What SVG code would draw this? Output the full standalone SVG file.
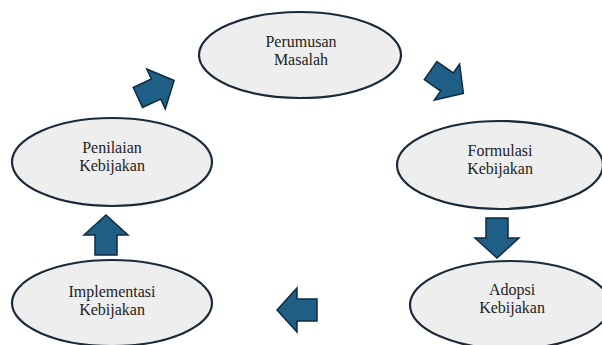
<svg xmlns="http://www.w3.org/2000/svg" width="602" height="345" viewBox="0 0 602 345">
<defs>
<style>
.node ellipse{fill:#eeeeee;stroke:#1b2a38;stroke-width:2.2}
.node text{font-family:"Liberation Serif","DejaVu Serif",serif;font-size:16px;fill:#222;text-anchor:middle}
.arrow{fill:#1f5e85;stroke:#0f2c40;stroke-width:1.5;stroke-linejoin:miter}
</style>
<path id="arr" d="M-20,-11 L0,-11 L0,-22 L20,0 L0,22 L0,11 L-20,11 Z"/>
</defs>
<rect width="602" height="345" fill="#ffffff"/>
<g id="perumusan" class="node">
<ellipse cx="300" cy="55" rx="101" ry="43"/>
<text x="301" y="47">Perumusan</text>
<text x="301" y="65">Masalah</text>
</g>
<g id="formulasi" class="node">
<ellipse cx="500" cy="165" rx="103" ry="44"/>
<text x="500" y="156">Formulasi</text>
<text x="500" y="174">Kebijakan</text>
</g>
<g id="adopsi" class="node">
<ellipse cx="510" cy="305" rx="100" ry="44"/>
<text x="512" y="295">Adopsi</text>
<text x="512" y="313">Kebijakan</text>
</g>
<g id="implementasi" class="node">
<ellipse cx="112" cy="303" rx="100" ry="43"/>
<text x="112" y="297">Implementasi</text>
<text x="112" y="315">Kebijakan</text>
</g>
<g id="penilaian" class="node">
<ellipse cx="112" cy="162" rx="100" ry="44"/>
<text x="112" y="153">Penilaian</text>
<text x="112" y="171">Kebijakan</text>
</g>
<g id="connectors">
<use href="#arr" class="arrow" transform="translate(447,82) rotate(35)"/>
<use href="#arr" class="arrow" transform="translate(497,238) rotate(90)"/>
<use href="#arr" class="arrow" transform="translate(297,310) rotate(180)"/>
<use href="#arr" class="arrow" transform="translate(106,235) rotate(-90)"/>
<use href="#arr" class="arrow" transform="translate(156,89) rotate(-25)"/>
</g>
</svg>
